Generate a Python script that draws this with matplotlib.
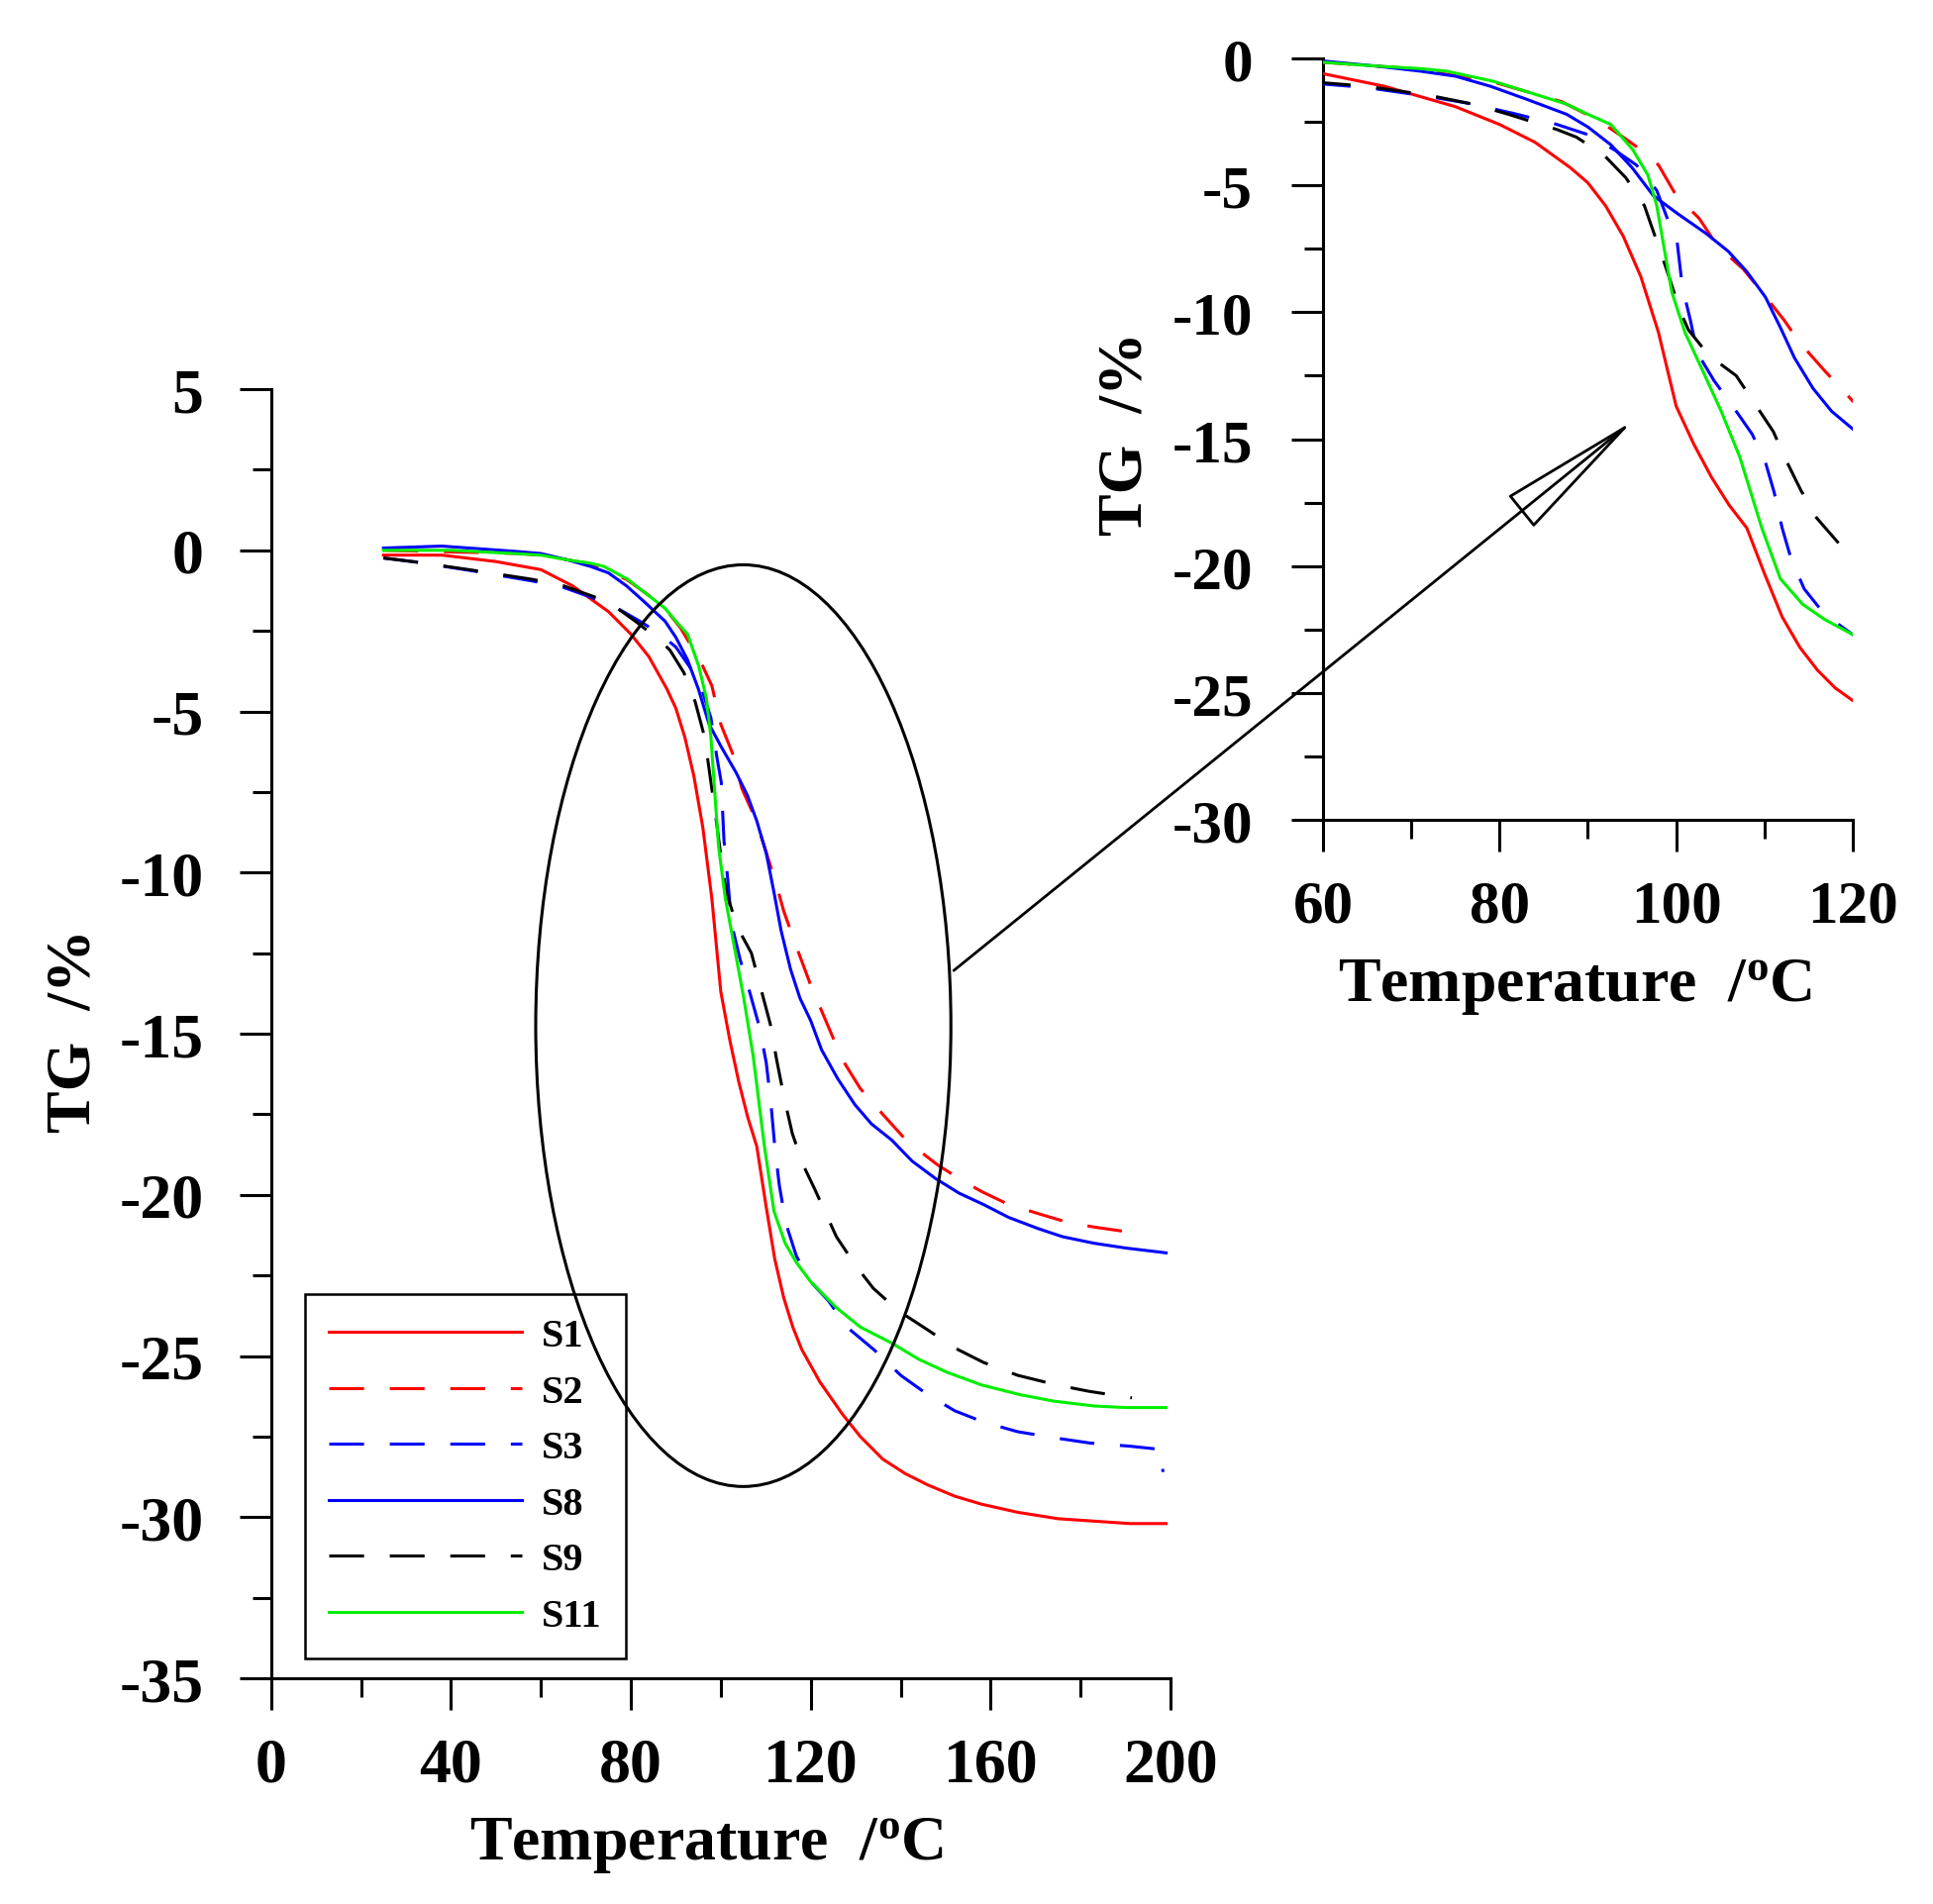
import matplotlib
matplotlib.use("Agg")
import matplotlib.pyplot as plt
import matplotlib.ticker as ticker
from matplotlib.patches import Ellipse, FancyArrowPatch

plt.rcParams["font.family"] = ["Liberation Serif", "DejaVu Serif"]
plt.rcParams["font.weight"] = "bold"
plt.rcParams["axes.unicode_minus"] = False
plt.rcParams["mathtext.fontset"] = "custom"
plt.rcParams["mathtext.rm"] = "Liberation Serif:bold"
plt.rcParams["mathtext.default"] = "rm"

# TG curves, temperature in degC and mass change in %
s1_t = [25, 38, 50, 60, 67, 75, 80, 84, 88, 90, 92, 94, 96, 98, 100, 102, 104, 106, 108,
        110, 112, 114, 116, 118, 120, 122, 127, 131, 136, 141, 146, 152, 158, 166, 175, 191, 199]
s1_v = [-0.15, -0.15, -0.35, -0.6, -1.1, -1.9, -2.6, -3.3, -4.3, -4.9, -5.8, -7.0, -8.6, -10.8,
        -13.7, -15.2, -16.5, -17.6, -18.5, -20.3, -22.0, -23.2, -24.1, -24.8, -25.3, -25.8,
        -26.8, -27.5, -28.2, -28.65, -29.0, -29.35, -29.6, -29.85, -30.05, -30.2, -30.2]

s2_t = [25, 40, 55, 60, 70, 79, 87, 91, 94, 96, 98, 100, 102.6, 104.7, 107.6, 109.7, 112.2,
        114, 116.8, 120, 127, 131, 136, 141.5, 148, 153, 158, 164, 171, 177, 183, 193]
s2_v = [0.0, -0.05, -0.1, -0.15, -0.4, -0.9, -1.7, -2.4, -3.1, -3.6, -4.2, -5.4, -6.3, -7.4,
        -8.3, -9.2, -10.3, -11.2, -12.3, -13.5, -15.8, -16.7, -17.5, -18.35, -19.05, -19.5,
        -19.9, -20.3, -20.6, -20.85, -21.0, -21.2]

s3_t = [25, 32, 44, 58, 65, 72, 77, 82, 86.5, 90, 93, 95.5, 97.8, 99.1, 100.1, 100.7, 101.6,
        102.4, 104.3, 106.4, 108.6, 110.1, 111.1, 112, 113, 114.5, 116.8, 120, 124, 128, 134,
        140, 146, 152, 158.4, 166, 174.7, 182, 191, 197.8, 198.3]
s3_v = [-0.24, -0.36, -0.62, -0.95, -1.15, -1.5, -1.8, -2.2, -2.6, -3.0, -3.6, -4.2, -5.2, -6.4,
        -7.2, -9.0, -10.3, -11.6, -12.7, -13.7, -14.8, -15.9, -17.1, -18.5, -19.7, -20.9, -21.9,
        -22.7, -23.3, -24.1, -24.8, -25.6, -26.2, -26.7, -27.05, -27.35, -27.55, -27.7, -27.8,
        -27.9, -28.6]

s8_t = [25, 38, 54, 60, 66, 71, 75, 79, 83, 87.6, 90, 92.6, 95, 97.4, 100.1, 103.4, 105.9, 108,
        110.1, 111.8, 113.4, 115.5, 117.6, 120, 122.4, 126, 129.8, 133.5, 138, 142.5, 147.8, 153,
        158.4, 164, 170.6, 176, 182.9, 190, 199]
s8_v = [0.07, 0.13, -0.03, -0.1, -0.3, -0.5, -0.7, -1.1, -1.6, -2.2, -2.7, -3.4, -4.3, -5.4,
        -6.1, -6.9, -7.6, -8.4, -9.4, -10.6, -11.8, -13.0, -13.9, -14.6, -15.5, -16.4, -17.2,
        -17.8, -18.3, -18.95, -19.5, -19.95, -20.3, -20.7, -21.05, -21.3, -21.5, -21.65, -21.8]

s9_t = [25, 32, 44, 58, 65, 72, 77, 81, 86.5, 88.7, 91.8, 94.3, 96.4, 97.6, 98.9, 100.5, 101.4,
        103.7, 106.8, 108.9, 111, 112.4, 114.1, 115.9, 118.4, 120.8, 125.7, 130, 133.9, 139.5,
        146.1, 152, 158.4, 166, 174.7, 182, 191.4]
s9_v = [-0.24, -0.36, -0.6, -0.9, -1.1, -1.45, -1.8, -2.2, -2.8, -3.1, -3.8, -4.7, -5.8, -7.0,
        -8.3, -10.0, -10.7, -11.7, -12.5, -13.6, -14.7, -15.8, -17.0, -18.1, -19.1, -19.8, -21.3,
        -22.2, -22.9, -23.6, -24.2, -24.75, -25.2, -25.6, -25.9, -26.1, -26.3]

s11_t = [25, 40, 54, 60, 66, 71, 74, 79.3, 83, 87.6, 90, 92.6, 95.1, 96.8, 97.8, 98.5, 99.5,
         101, 102.6, 105.1, 107.2, 109.7, 111.8, 114.3, 116.8, 120, 125.7, 131, 138, 144, 150.2,
         158, 166.5, 174, 182.9, 190, 199]
s11_v = [0.0, 0.0, -0.1, -0.15, -0.3, -0.4, -0.5, -0.9, -1.3, -1.8, -2.2, -2.6, -3.6, -4.6, -5.8,
         -7.2, -9.2, -10.8, -12.0, -13.9, -15.7, -18.5, -20.5, -21.5, -22.1, -22.7, -23.5, -24.1,
         -24.6, -25.1, -25.5, -25.9, -26.2, -26.4, -26.55, -26.6, -26.6]

labels = ["S1", "S2", "S3", "S8", "S9", "S11"]
SERIES = [
    (s1_t, s1_v, "#FF0000", "-"),
    (s2_t, s2_v, "#FF0000", "--"),
    (s3_t, s3_v, "#0000FF", "--"),
    (s8_t, s8_v, "#0000FF", "-"),
    (s9_t, s9_v, "#000000", "--"),
    (s11_t, s11_v, "#00EE00", "-"),
]

LW = 2.2
DASH = (11.5, 8.5)
XLAB = "Temperature  /$^{\\mathrm{o}}$C"
YLAB = "TG  /%"


def draw_curves(ax, with_labels):
    for (t, v, col, ls), lbl in zip(SERIES, labels):
        line, = ax.plot(t, v, color=col, lw=LW, label=lbl if with_labels else None,
                        solid_joinstyle="round", zorder=3)
        if ls == "--":
            line.set_dashes(DASH)


def style_axes(ax, fs, ypad):
    for s in ("top", "right"):
        ax.spines[s].set_visible(False)
    for s in ("left", "bottom"):
        ax.spines[s].set_linewidth(2.2)
    ax.tick_params(which="major", direction="out", length=23, width=2.2, labelsize=fs)
    ax.tick_params(which="minor", direction="out", length=14, width=2.2)
    ax.tick_params(axis="x", which="major", pad=20)
    ax.tick_params(axis="y", which="major", pad=ypad)


fig = plt.figure(figsize=(19.52, 19.24), dpi=100, facecolor="white")

# main plot
ax = fig.add_axes([0.1402, 0.1185, 0.4654, 0.6767])
draw_curves(ax, True)
ax.set_xlim(0, 200); ax.set_ylim(-35, 5)
ax.xaxis.set_major_locator(ticker.MultipleLocator(40))
ax.xaxis.set_minor_locator(ticker.MultipleLocator(20))
ax.yaxis.set_major_locator(ticker.MultipleLocator(5))
ax.yaxis.set_minor_locator(ticker.MultipleLocator(2.5))
style_axes(ax, 46, 26)
ax.set_xlabel(XLAB, fontsize=46, fontweight="bold")
ax.set_ylabel(YLAB, fontsize=46, fontweight="bold")
ax.xaxis.set_label_coords(0.484, -0.106)
ax.yaxis.set_label_coords(-0.186, 0.503)

leg = ax.legend(loc="lower left", bbox_to_anchor=(0.0374, 0.0154), borderaxespad=0,
                frameon=True, fancybox=False, edgecolor="black",
                framealpha=1, handlelength=4.85, handletextpad=0.5, borderpad=0.6,
                labelspacing=0.48, prop={"weight": "bold", "size": 29})
leg.get_frame().set_linewidth(1.8)
leg.set_zorder(5)

ell = Ellipse((105, -14.75), 92.3, 28.6, fill=False, ec="black", lw=2.2, zorder=6)
ax.add_patch(ell)

# zoomed inset
axi = fig.add_axes([0.6844, 0.5691, 0.2741, 0.3997])
draw_curves(axi, False)
axi.set_xlim(60, 120); axi.set_ylim(-30, 0)
axi.xaxis.set_major_locator(ticker.MultipleLocator(20))
axi.xaxis.set_minor_locator(ticker.MultipleLocator(10))
axi.yaxis.set_major_locator(ticker.MultipleLocator(5))
axi.yaxis.set_minor_locator(ticker.MultipleLocator(2.5))
style_axes(axi, 44, 28)
axi.set_xlabel(XLAB, fontsize=46, fontweight="bold")
axi.set_ylabel(YLAB, fontsize=46, fontweight="bold")
axi.xaxis.set_label_coords(0.475, -0.179)
axi.yaxis.set_label_coords(-0.316, 0.508)

# arrow from the ellipse to the inset
arr = FancyArrowPatch((0.4923, 0.4891), (0.8456, 0.7792), transform=fig.transFigure,
                      arrowstyle="-|>,head_length=96,head_width=13.5", mutation_scale=1,
                      lw=2.0, ec="black", fc="none", zorder=10)
fig.add_artist(arr)

fig.savefig("out.png", dpi=100)
